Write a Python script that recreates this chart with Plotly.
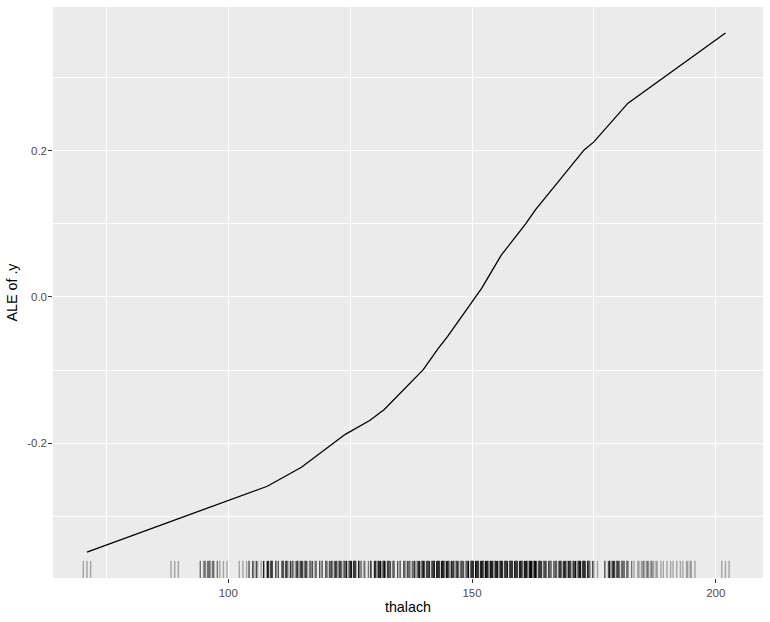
import plotly.graph_objects as go

# ALE curve (thalach -> ALE of .y)
ale_x = [71, 108, 115, 124, 129, 132, 140, 143, 145, 152, 156, 161, 163, 173, 175, 182, 202]
ale_y = [-0.349, -0.259, -0.233, -0.188, -0.169, -0.154, -0.0995, -0.071, -0.054,
         0.012, 0.057, 0.100, 0.119, 0.201, 0.212, 0.265, 0.361]

# Rug: observed thalach values and how often they occur
rug_vals = [71, 89, 95, 96, 97, 99, 103, 105, 106, 108, 109, 111, 112, 113, 114, 115, 116,
            117, 118, 120, 121, 122, 123, 124, 125, 126, 127, 128, 130, 131, 132, 133, 134,
            136, 137, 138, 139, 140, 141, 142, 143, 144, 145, 146, 147, 148, 149, 150, 151,
            152, 153, 154, 155, 156, 157, 158, 159, 160, 161, 162, 163, 164, 165, 166, 167,
            168, 169, 170, 171, 172, 173, 174, 175, 178, 179, 180, 181, 182, 184, 185, 186,
            187, 188, 190, 192, 194, 195, 202]
rug_counts = [1, 1, 2, 2, 2, 1, 1, 3, 1, 6, 4, 3, 4, 1, 3, 4, 3,
              1, 3, 3, 2, 4, 3, 2, 6, 6, 1, 2, 6, 4, 8, 2, 3,
              3, 2, 2, 4, 6, 3, 5, 7, 7, 5, 3, 4, 2, 3, 11, 5,
              8, 6, 6, 5, 7, 4, 6, 5, 6, 5, 11, 9, 3, 4, 2, 2,
              4, 5, 4, 3, 7, 7, 3, 1, 3, 5, 3, 2, 2, 1, 1, 2,
              1, 1, 1, 1, 1, 1, 1]

x_ticks = [100, 150, 200]
x_tick_labels = ["100", "150", "200"]
y_ticks = [-0.2, 0.0, 0.2]
y_tick_labels = ["-0.2", "0.0", "0.2"]

FONT = "Liberation Sans, Arial, sans-serif"
RUG_SPREAD = (-0.75, 0.0, 0.75)   # visual jitter of rug strokes
RUG_ALPHA = 0.3

fig = go.Figure()
fig.add_trace(go.Scatter(x=ale_x, y=ale_y, mode="lines",
                         line=dict(color="black", width=1.3),
                         hoverinfo="skip", showlegend=False))

shapes = []
for v, c in zip(rug_vals, rug_counts):
    op = min(1.0, 1 - (1 - RUG_ALPHA) ** c)
    for off in RUG_SPREAD:
        shapes.append(dict(type="line", xref="x", yref="y domain",
                           x0=v + off, x1=v + off, y0=0, y1=0.03,
                           line=dict(color="black", width=1.4), opacity=op, layer="above"))

fig.update_layout(
    template="none",
    width=770, height=622,
    margin=dict(l=53, r=7, t=7, b=44, autoexpand=False),
    paper_bgcolor="white", plot_bgcolor="#EBEBEB",
    font=dict(family=FONT, color="#4D4D4D"),
    shapes=shapes,
    showlegend=False,
)
fig.update_xaxes(
    automargin=False,
    range=[64.03, 209.7], tickmode="array", tickvals=x_ticks, ticktext=x_tick_labels,
    showgrid=True, gridcolor="white", gridwidth=1.4,
    minor=dict(showgrid=True, gridcolor="white", gridwidth=0.7, dtick=25, tick0=75),
    ticks="outside", ticklen=3.7, tickcolor="#333333", tickwidth=1,
    tickfont=dict(size=11.5, color="#4D4D4D", family=FONT),
    zeroline=False, showline=False,
    title=dict(text="thalach", font=dict(size=14.3, color="black", family=FONT), standoff=4),
)
fig.update_yaxes(
    automargin=False,
    range=[-0.3845, 0.3965], tickmode="array", tickvals=y_ticks, ticktext=y_tick_labels,
    ticklabelstandoff=-1,
    showgrid=True, gridcolor="white", gridwidth=1.4,
    minor=dict(showgrid=True, gridcolor="white", gridwidth=0.7, dtick=0.1, tick0=-0.3),
    ticks="outside", ticklen=3.7, tickcolor="#333333", tickwidth=1,
    tickfont=dict(size=11.5, color="#4D4D4D", family=FONT),
    zeroline=False, showline=False,
    title=dict(text="ALE of .y", font=dict(size=14.3, color="black", family=FONT), standoff=6),
)

fig.write_html("out.html", config={"displayModeBar": False},
               post_script="document.body.style.margin='0';")
